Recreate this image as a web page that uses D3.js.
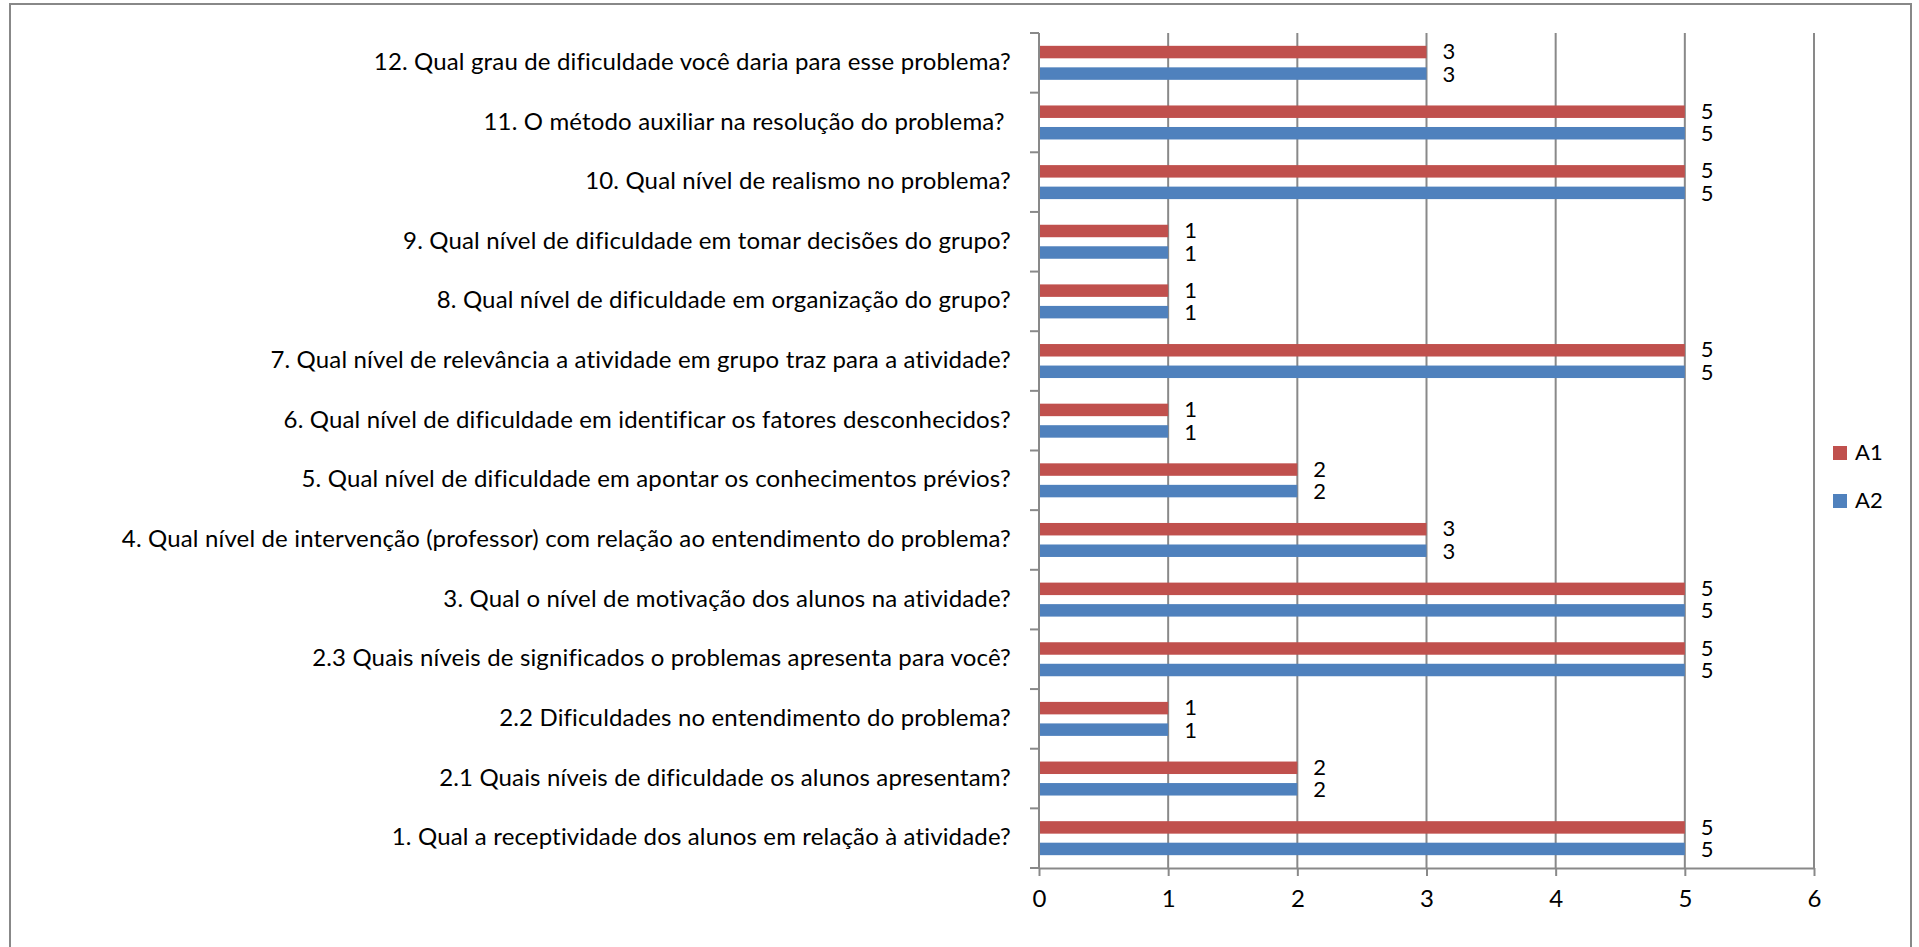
<!DOCTYPE html>
<html>
<head>
<meta charset="utf-8">
<script src="https://cdn.jsdelivr.net/npm/d3@7"></script>
<style>
  html, body { margin: 0; padding: 0; background: #fff; }
  svg { display: block; }
  text { font-family: Lato, "Open Sans", sans-serif; fill: #000; }
</style>
</head>
<body>
<svg id="chart" width="1919" height="947"></svg>
<script>
// Survey questions, listed bottom-to-top as they appear on the axis
const categories = [
  "1. Qual a receptividade dos alunos em relação à atividade?",
  "2.1 Quais níveis de dificuldade os alunos apresentam?",
  "2.2 Dificuldades no entendimento do problema?",
  "2.3 Quais níveis de significados o problemas apresenta para você?",
  "3. Qual o nível de motivação dos alunos na atividade?",
  "4. Qual nível de intervenção (professor) com relação ao entendimento do problema?",
  "5. Qual nível de dificuldade em apontar os conhecimentos prévios?",
  "6. Qual nível de dificuldade em identificar os fatores desconhecidos?",
  "7. Qual nível de relevância a atividade em grupo traz para a atividade?",
  "8. Qual nível de dificuldade em organização do grupo?",
  "9. Qual nível de dificuldade em tomar decisões do grupo?",
  "10. Qual nível de realismo no problema?",
  "11. O método auxiliar na resolução do problema? ",
  "12. Qual grau de dificuldade você daria para esse problema?"
];
const seriesNames = ["A1", "A2"];
const valuesA1 = [5, 2, 1, 5, 5, 3, 2, 1, 5, 1, 1, 5, 5, 3];
const valuesA2 = [5, 2, 1, 5, 5, 3, 2, 1, 5, 1, 1, 5, 5, 3];
const xTicks = [0, 1, 2, 3, 4, 5, 6];
const colors = { A1: "#C0504D", A2: "#4F81BD" };

const svg = d3.select("#chart");
const gridColor = "#898989";

// Outer chart frame
svg.append("rect")
  .attr("x", 10).attr("y", 4)
  .attr("width", 1901).attr("height", 970)
  .attr("fill", "none").attr("stroke", "#888").attr("stroke-width", 2);

const plot = { left: 1039, right: 1814, top: 33, bottom: 868 };

const x = d3.scaleLinear().domain([0, 6]).range([plot.left, plot.right]);
const y = d3.scaleBand()
  .domain(categories.slice().reverse())
  .range([plot.top, plot.bottom])
  .paddingInner(0.43)
  .paddingOuter(0.215);
const ySub = d3.scaleBand()
  .domain(seriesNames)
  .range([0, y.bandwidth()])
  .paddingInner(0.42);

// Vertical gridlines
svg.append("g")
  .selectAll("line")
  .data(xTicks.slice(1))
  .join("line")
  .attr("x1", d => x(d)).attr("x2", d => x(d))
  .attr("y1", plot.top).attr("y2", plot.bottom)
  .attr("stroke", gridColor).attr("stroke-width", 2);

// Bars
const rows = categories.map((c, i) => ({ cat: c, A1: valuesA1[i], A2: valuesA2[i] }));
const groups = svg.append("g")
  .selectAll("g")
  .data(rows)
  .join("g")
  .attr("transform", d => `translate(0,${y(d.cat)})`);

groups.selectAll("rect")
  .data(d => seriesNames.map(s => ({ s, v: d[s] })))
  .join("rect")
  .attr("x", x(0))
  .attr("y", d => ySub(d.s))
  .attr("width", d => x(d.v) - x(0))
  .attr("height", ySub.bandwidth())
  .attr("fill", d => colors[d.s]);

// Value labels
groups.selectAll("text.val")
  .data(d => seriesNames.map(s => ({ s, v: d[s] })))
  .join("text")
  .attr("class", "val")
  .attr("x", d => x(d.v) + 16)
  .attr("y", d => ySub(d.s) + ySub.bandwidth() / 2 + (d.s === "A1" ? 1.5 : 2.5))
  .attr("dominant-baseline", "middle")
  .attr("font-size", 22)
  .text(d => d.v);

// X axis
const xAxis = svg.append("g")
  .attr("transform", `translate(0,${plot.bottom})`)
  .call(d3.axisBottom(x).tickValues(xTicks).tickFormat(d3.format("d"))
    .tickSize(8).tickPadding(14).tickSizeOuter(0));
xAxis.select(".domain").attr("stroke", gridColor).attr("stroke-width", 2);
xAxis.selectAll(".tick line").attr("stroke", gridColor).attr("stroke-width", 2);
xAxis.selectAll(".tick text").attr("font-size", 24).attr("font-family", "Lato, sans-serif").attr("fill", "#000");

// Y axis with category boundary ticks
const yAxisG = svg.append("g");
yAxisG.append("line")
  .attr("x1", plot.left).attr("x2", plot.left)
  .attr("y1", plot.top).attr("y2", plot.bottom)
  .attr("stroke", gridColor).attr("stroke-width", 2);
const boundaries = d3.range(categories.length + 1).map(i => plot.top + i * y.step());
yAxisG.selectAll("line.tk")
  .data(boundaries)
  .join("line")
  .attr("class", "tk")
  .attr("x1", plot.left - 9).attr("x2", plot.left)
  .attr("y1", d => d).attr("y2", d => d)
  .attr("stroke", gridColor).attr("stroke-width", 2);
yAxisG.selectAll("text")
  .data(categories)
  .join("text")
  .attr("x", plot.left - 28)
  .attr("y", d => y(d) + y.bandwidth() / 2 + 1)
  .attr("text-anchor", "end")
  .attr("dominant-baseline", "middle")
  .attr("font-size", 24)
  .attr("letter-spacing", 0.15)
  .style("white-space", "pre")
  .text(d => d);

// Legend
const legend = svg.append("g");
seriesNames.forEach((s, i) => {
  legend.append("rect")
    .attr("x", 1833).attr("y", 446 + i * 48)
    .attr("width", 14).attr("height", 14)
    .attr("fill", colors[s]);
  legend.append("text")
    .attr("x", 1855).attr("y", 453 + i * 48 + 1)
    .attr("dominant-baseline", "middle")
    .attr("font-size", 22)
    .text(s);
});
</script>
</body>
</html>
